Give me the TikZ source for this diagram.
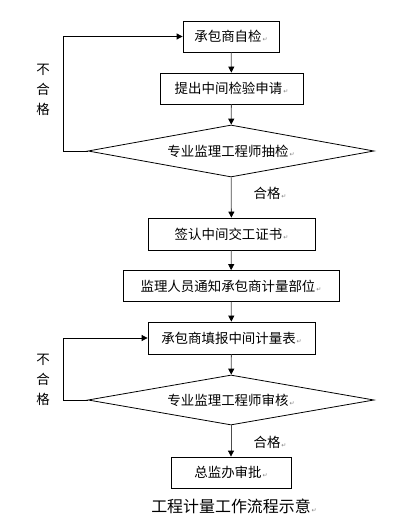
\documentclass[tikz,border=0pt]{standalone}
\usepackage{fontspec}
\setmainfont{Noto Sans CJK SC}
\newfontfamily\symfont{DejaVu Sans}
\usetikzlibrary{shapes.geometric,arrows.meta}
\newcommand\retmark{{\symfont\fontsize{6}{6}\selectfont\color{gray}\,↵}}
\tikzset{
  stepbox/.style={draw, thick, rectangle, inner sep=0pt, font=\fontsize{13.5}{14}\selectfont},
  checkbox/.style={draw, thick, diamond, aspect=5.5, inner sep=0pt, font=\fontsize{13.5}{14}\selectfont},
  flow/.style={thick, draw=black!70, -{Triangle[length=6bp,width=6bp,color=black]}},
  back/.style={thick, draw=black, -{Triangle[length=6bp,width=6bp,color=black]}},
  note/.style={inner sep=0pt, font=\fontsize{13.5}{14}\selectfont}
}
\begin{document}
\begin{tikzpicture}[x=1bp,y=-1bp]
  \useasboundingbox[fill=white] (0,0) rectangle (410,521);

  % BOXES
  \node[stepbox, minimum width=96bp, minimum height=31bp] (b1) at (231,36.5) {承包商自检\retmark};
  \node[stepbox, minimum width=143bp, minimum height=31bp] (b2) at (231.5,88.5) {提出中间检验申请\retmark};
  \node[checkbox, minimum width=286bp, minimum height=52bp] (d1) at (231,151) {专业监理工程师抽检\retmark};
  \node[stepbox, minimum width=167bp, minimum height=32bp] (b3) at (231.5,234) {签认中间交工证书\retmark};
  \node[stepbox, minimum width=216bp, minimum height=31bp] (b4) at (231,286) {监理人员通知承包商计量部位\retmark};
  \node[stepbox, minimum width=167bp, minimum height=32bp] (b5) at (231.5,338) {承包商填报中间计量表\retmark};
  \node[checkbox, minimum width=286bp, minimum height=50bp] (d2) at (231,400) {专业监理工程师审核\retmark};
  \node[stepbox, minimum width=120bp, minimum height=31bp] (b6) at (231,472.5) {总监办审批\retmark};

  % LABELS
  \node[note, align=center, font=\fontsize{13.5}{20}\selectfont] (n1) at (43,90) {不\\合\\格};
  \node[note, align=center, font=\fontsize{13.5}{20}\selectfont] (n2) at (43,380) {不\\合\\格};
  \node[note] (y1) at (270,193) {合格\retmark};
  \node[note] (y2) at (270,442) {合格\retmark};
  \node[note, font=\fontsize{16}{16}\selectfont] (cap) at (234,506) {工程计量工作流程示意\retmark};

  % ARROWS
  \draw[flow] (b1) -- (b2);
  \draw[flow] (b2) -- (d1);
  \draw[flow] (d1) -- (b3);
  \draw[flow] (b3) -- (b4);
  \draw[flow] (b4) -- (b5);
  \draw[flow] (b5) -- (d2);
  \draw[flow] (d2) -- (b6);

  \coordinate (t1) at (63,151);
  \coordinate (t2) at (63,400);
  \draw[back] (d1.west) -- (t1) |- (b1.west);
  \draw[back] (d2.west) -- (t2) |- (b5.west);
\end{tikzpicture}
\end{document}
